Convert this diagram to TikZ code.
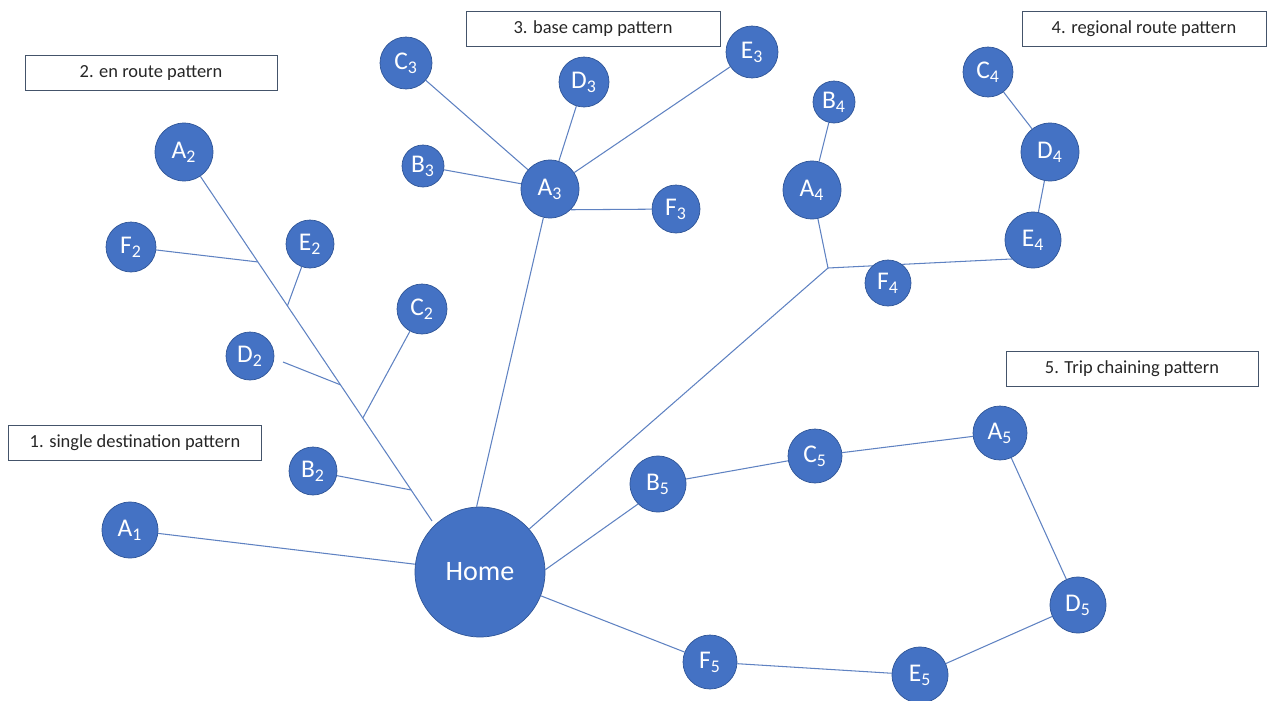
\documentclass[tikz,border=0pt]{standalone}
\usepackage{fontspec}
\setmainfont{Carlito}
\usetikzlibrary{calc}
\definecolor{spotblue}{HTML}{4472C4}
\definecolor{spotedge}{HTML}{2F5597}
\definecolor{linkblue}{HTML}{5F82C2}
\definecolor{boxedge}{HTML}{44546A}
\tikzset{
  spot/.style={circle, fill=spotblue, draw=spotedge, text=white, inner sep=0pt,
    minimum size=#1, font=\fontsize{14.5}{16}\selectfont},
  spot/.default=1.1cm,
  link/.style={linkblue, line width=0.6pt},
  tag/.style={draw=boxedge, text=black!85, minimum height=0.7cm, font=\fontsize{10.5}{12}\selectfont}
}
\newcommand{\sub}[2]{#1\textsubscript{#2}}
\begin{document}
\begin{tikzpicture}[x=0.02cm, y=-0.02cm]
		\useasboundingbox (0,0) rectangle (1274,700);
		% pattern labels
		\node[tag, minimum width=5.06cm] (lab1) at (135,443) {1. single destination pattern};
		\node[tag, minimum width=5.04cm] (lab2) at (151,73) {2. en route pattern};
		\node[tag, minimum width=5.08cm] (lab3) at (593,29) {3. base camp pattern};
		\node[tag, minimum width=4.88cm] (lab4) at (1144,29) {4. regional route pattern};
		\node[tag, minimum width=5.04cm] (lab5) at (1132,369) {5. Trip chaining pattern};
		% places
		\node[spot=2.6cm, font=\fontsize{16}{18}\selectfont] (Home) at (480,572) {Home};
		\node[spot=1.12cm] (A1) at (130,530) {\sub{A}{1}};
		\node[spot=1.16cm] (A2) at (184,152) {\sub{A}{2}};
		\node[spot=0.96cm] (B2) at (313,471) {\sub{B}{2}};
		\node[spot=1.0cm] (C2) at (422,309) {\sub{C}{2}};
		\node[spot=0.96cm] (D2) at (250,356) {\sub{D}{2}};
		\node[spot=0.96cm] (E2) at (310,244) {\sub{E}{2}};
		\node[spot=1.0cm] (F2) at (131,247) {\sub{F}{2}};
		\node[spot=1.16cm] (A3) at (550,189) {\sub{A}{3}};
		\node[spot=0.84cm] (B3) at (423,166) {\sub{B}{3}};
		\node[spot=1.04cm] (C3) at (406,63) {\sub{C}{3}};
		\node[spot=1.0cm] (D3) at (584,82) {\sub{D}{3}};
		\node[spot=1.04cm] (E3) at (752,52) {\sub{E}{3}};
		\node[spot=0.96cm] (F3) at (676,209) {\sub{F}{3}};
		\node[spot=1.16cm] (A4) at (812,190) {\sub{A}{4}};
		\node[spot=0.84cm] (B4) at (834,102) {\sub{B}{4}};
		\node[spot=1.0cm] (C4) at (988,72) {\sub{C}{4}};
		\node[spot=1.16cm] (D4) at (1050,152) {\sub{D}{4}};
		\node[spot=1.12cm] (E4) at (1033,240) {\sub{E}{4}};
		\node[spot=1.08cm] (A5) at (1000,433) {\sub{A}{5}};
		\node[spot=1.12cm] (B5) at (658,484) {\sub{B}{5}};
		\node[spot=1.08cm] (C5) at (815,456) {\sub{C}{5}};
		\node[spot=1.12cm] (D5) at (1078,605) {\sub{D}{5}};
		\node[spot=1.12cm] (E5) at (920,675) {\sub{E}{5}};
		\node[spot=1.08cm] (F5) at (710,662) {\sub{F}{5}};
		% junctions
		\coordinate (tr0) at (432,521);
		\coordinate (jB2) at ($(tr0)!0.084!(A2)$);
		\coordinate (jC2) at ($(tr0)!0.279!(A2)$);
		\coordinate (jD2) at ($(tr0)!0.369!(A2)$);
		\coordinate (jE2) at ($(tr0)!0.583!(A2)$);
		\coordinate (jF2) at ($(tr0)!0.702!(A2)$);
		\coordinate (dD2) at (283,362);
		\coordinate (jR) at (828,268);
		% connectors (drawn under the places)
		\begin{scope}[link]
		\draw (A1) -- (Home);
		\draw (tr0) -- (A2);
		\draw (B2) -- (jB2);
		\draw (C2) -- (jC2);
		\draw (dD2) -- (jD2);
		\draw (E2) -- (jE2);
		\draw (F2) -- (jF2);
		\draw (Home.93) -- (A3);
		\draw (A3) -- (B3);
		\draw (A3) -- (C3);
		\draw (A3) -- (D3);
		\draw (A3) -- (E3);
		\draw (A3.-45) -- (F3);
		\draw (Home) -- (jR) -- (A4) -- (B4);
		\draw (jR) -- (E4.222);
		\draw (E4) -- (D4) -- (C4);
		\draw (Home.2) -- (B5.225);
		\draw (B5) -- (C5) -- (A5) -- (D5) -- (E5) -- (F5) -- (Home);
		\end{scope}
		\node[spot=0.92cm] (F4) at (888,283) {\sub{F}{4}};
\end{tikzpicture}
\end{document}
